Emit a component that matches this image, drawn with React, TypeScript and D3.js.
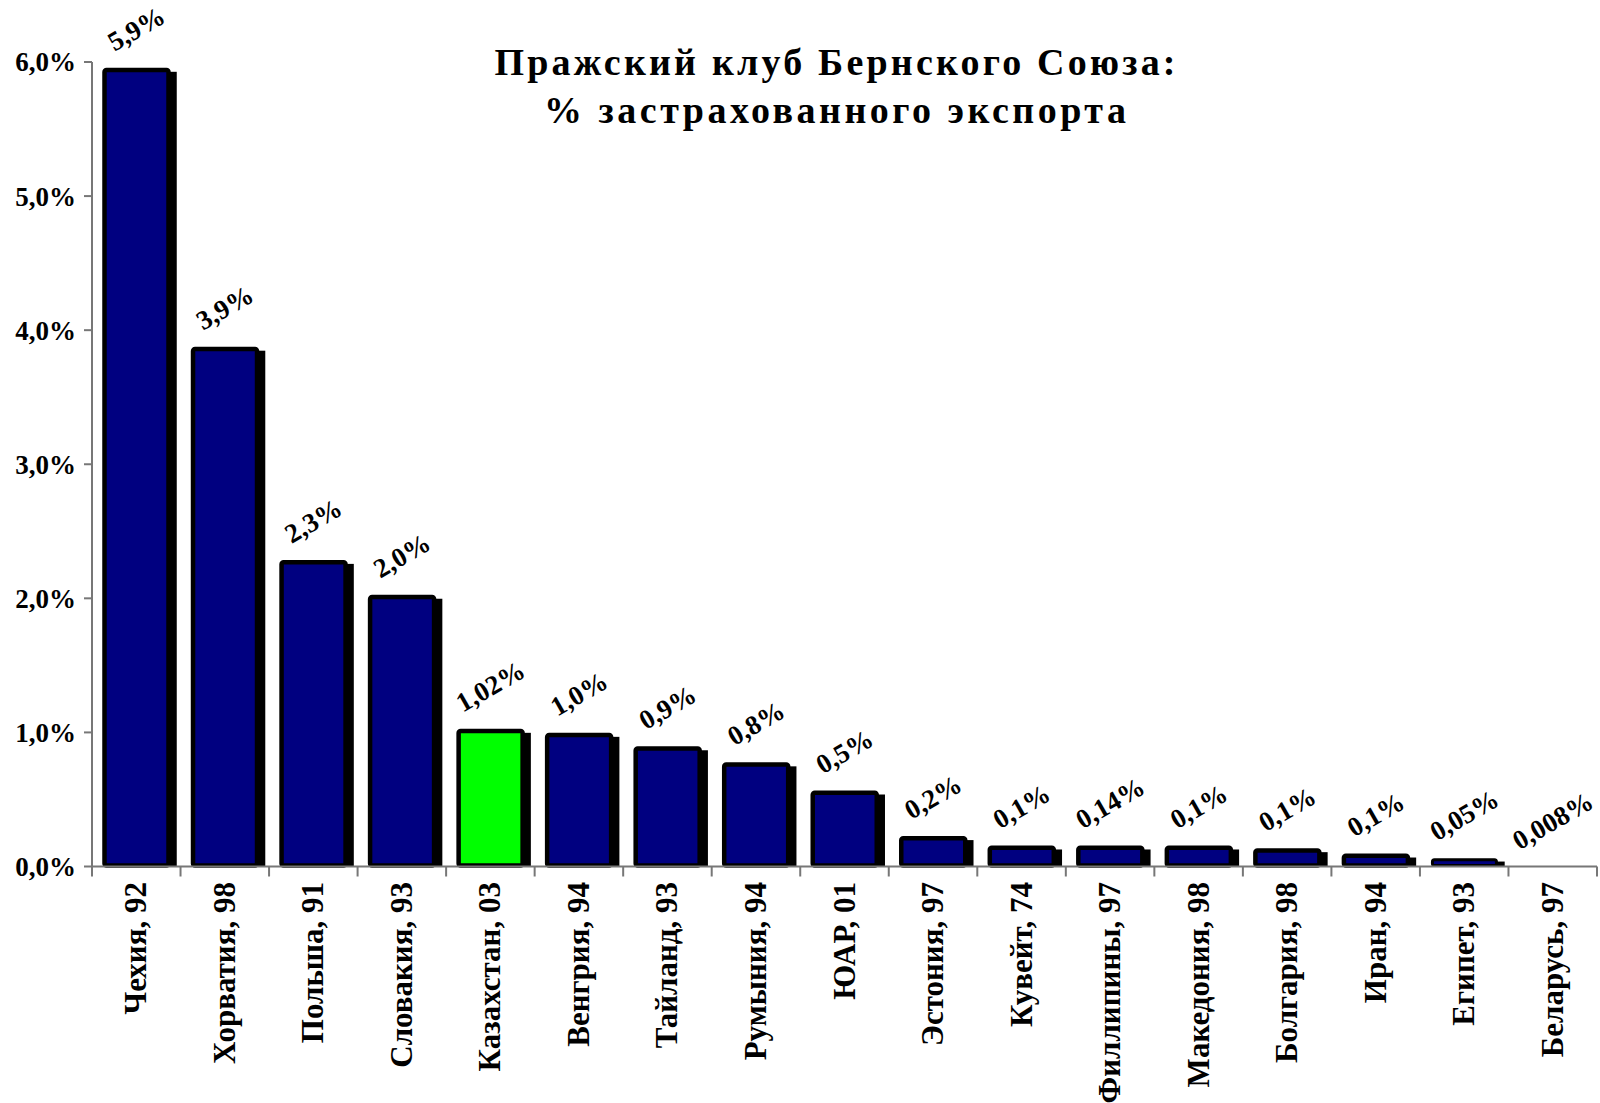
import { useEffect, useRef } from 'react';
import * as d3 from 'd3';

const categories = [
  'Чехия, 92', 'Хорватия, 98', 'Польша, 91', 'Словакия, 93', 'Казахстан, 03',
  'Венгрия, 94', 'Тайланд, 93', 'Румыния, 94', 'ЮАР, 01', 'Эстония, 97',
  'Кувейт, 74', 'Филлипины, 97', 'Македония, 98', 'Болгария, 98', 'Иран, 94',
  'Египет, 93', 'Беларусь, 97',
];
const values = [
  5.94, 3.86, 2.27, 2.01, 1.01, 0.98, 0.88, 0.76, 0.55, 0.21,
  0.14, 0.14, 0.14, 0.12, 0.08, 0.05, 0.008,
];
const valueLabels = [
  '5,9%', '3,9%', '2,3%', '2,0%', '1,02%', '1,0%', '0,9%', '0,8%', '0,5%', '0,2%',
  '0,1%', '0,14%', '0,1%', '0,1%', '0,1%', '0,05%', '0,008%',
];
const highlighted = 'Казахстан, 03';
const yTicks = [0, 1, 2, 3, 4, 5, 6];
const titleLines = ['Пражский клуб Бернского Союза:', '% застрахованного экспорта'];

const WIDTH = 1600;
const HEIGHT = 1103;
const FONT = '"Liberation Serif", "Times New Roman", serif';

export default function App() {
  const svgRef = useRef<SVGSVGElement>(null);

  useEffect(() => {
    document.body.style.margin = '0';
    if (!svgRef.current) return;
    const svg = d3.select(svgRef.current);
    svg.selectAll('*').remove();

    const left = 92;
    const right = 1597;
    const top = 62;
    const zero = 866.5;

    const x = d3.scaleBand<string>().domain(categories).range([left, right]).padding(0);
    const y = d3.scaleLinear().domain([0, 6]).range([zero, top]);
    const bw = x.bandwidth();

    svg.append('rect').attr('width', WIDTH).attr('height', HEIGHT).attr('fill', '#fff');

    // Title
    const titleW = [681, 582];
    titleLines.forEach((t, i) => {
      svg.append('text')
        .attr('x', 835)
        .attr('y', 75 + i * 48)
        .attr('text-anchor', 'middle')
        .attr('font-family', FONT)
        .attr('font-weight', 'bold')
        .attr('font-size', 38)
        .attr('textLength', titleW[i])
        .attr('lengthAdjust', 'spacing')
        .text(t);
    });

    const stroke = 4.5;
    const data = categories.map((c, i) => ({ c, v: values[i], label: valueLabels[i] }));
    const visible = (v: number) => zero - y(v) > 3;

    // Shadows
    svg.append('g')
      .selectAll('rect')
      .data(data.filter(d => visible(d.v)))
      .join('rect')
      .attr('x', d => (x(d.c) as number) + 10.25 + 6)
      .attr('y', d => y(d.v) - stroke / 2 + 4)
      .attr('width', 68.5)
      .attr('height', d => zero - (y(d.v) - stroke / 2 + 4))
      .attr('fill', '#000');

    // Bars
    svg.append('g')
      .selectAll('rect')
      .data(data.filter(d => visible(d.v)))
      .join('rect')
      .attr('x', d => (x(d.c) as number) + 12.5)
      .attr('y', d => y(d.v))
      .attr('width', 64)
      .attr('height', d => Math.max(zero - y(d.v) - 1, 0.8))
      .attr('rx', 2)
      .attr('fill', d => (d.c === highlighted ? '#00ff00' : '#000080'))
      .attr('stroke', '#000')
      .attr('stroke-width', d => (zero - y(d.v) < 10 ? 3 : stroke));

    // Value labels, rotated
    const angle = -30;
    const rad = (Math.abs(angle) * Math.PI) / 180;
    const fs = 27;
    const labelG = svg.append('g');
    data.forEach(d => {
      const cx = (x(d.c) as number) + bw / 2;
      const t = labelG.append('text')
        .attr('font-family', FONT)
        .attr('font-weight', 'bold')
        .attr('font-size', fs)
        .attr('text-anchor', 'middle')
        .text(d.label);
      const w = (t.node() as SVGTextElement).getComputedTextLength();
      const inkH = fs * 0.68;
      const halfH = (w * Math.sin(rad) + inkH * Math.cos(rad)) / 2;
      const outerTop = visible(d.v) ? y(d.v) - stroke / 2 : zero;
      const centerY = outerTop - 16 - halfH;
      const off = inkH / 2;
      const ax = cx + off * Math.sin(rad);
      const ay = centerY + off * Math.cos(rad);
      t.attr('transform', `translate(${ax},${ay}) rotate(${angle})`);
    });

    // Y axis
    const axisColor = '#777';
    svg.append('line')
      .attr('x1', left).attr('x2', left)
      .attr('y1', top).attr('y2', zero)
      .attr('stroke', axisColor).attr('stroke-width', 2);
    const yt = svg.append('g');
    yTicks.forEach(v => {
      yt.append('line')
        .attr('x1', left - 8).attr('x2', left)
        .attr('y1', y(v)).attr('y2', y(v))
        .attr('stroke', axisColor).attr('stroke-width', 2);
      yt.append('text')
        .attr('x', 76)
        .attr('y', y(v))
        .attr('dy', '0.35em')
        .attr('text-anchor', 'end')
        .attr('font-family', FONT)
        .attr('font-weight', 'bold')
        .attr('font-size', 27)
        .text(`${d3.format('.1f')(v).replace('.', ',')}%`);
    });

    // X axis
    svg.append('line')
      .attr('x1', left).attr('x2', right)
      .attr('y1', zero).attr('y2', zero)
      .attr('stroke', axisColor).attr('stroke-width', 2);
    const bounds = [...categories.map(c => x(c) as number), right];
    svg.append('g')
      .selectAll('line')
      .data(bounds)
      .join('line')
      .attr('x1', d => d).attr('x2', d => d)
      .attr('y1', zero).attr('y2', zero + 10)
      .attr('stroke', axisColor).attr('stroke-width', 2);

    // Category labels
    svg.append('g')
      .selectAll('text')
      .data(categories)
      .join('text')
      .attr('transform', c => `translate(${(x(c) as number) + bw / 2 + 10},882) rotate(-90)`)
      .attr('text-anchor', 'end')
      .attr('font-family', FONT)
      .attr('font-weight', 'bold')
      .attr('font-size', 31)
      .text(c => c);
  }, []);

  return (
    <svg ref={svgRef} width={WIDTH} height={HEIGHT} style={{ display: 'block' }} />
  );
}
